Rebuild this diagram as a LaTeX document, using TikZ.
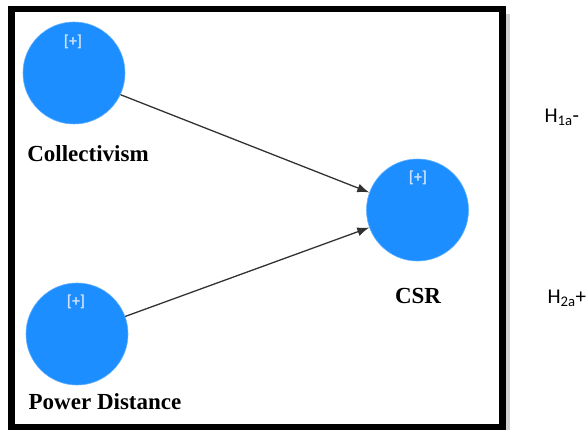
\documentclass[tikz,border=0pt]{standalone}
\usepackage{fontspec}
\setmainfont{Liberation Serif}
\newfontfamily\calib{Carlito}
\usetikzlibrary{positioning,arrows.meta}
\definecolor{latentblue}{RGB}{28,142,255}
\definecolor{plusgray}{RGB}{205,225,250}
\definecolor{pathgray}{RGB}{50,50,50}

\begin{document}
\begin{tikzpicture}[x=1pt,y=-1pt,
    latent/.style={circle,fill=latentblue,draw=latentblue!70!white,line width=0.6pt,minimum size=102pt,inner sep=0pt},
    plus/.style={font=\calib\fontsize{16}{16}\selectfont\bfseries,text=plusgray},
    lvname/.style={font=\fontsize{23}{25}\selectfont\bfseries},
    hyp/.style={font=\calib\fontsize{21}{23}\selectfont,anchor=west},
    path/.style={draw=pathgray,line width=1.3pt,-{Latex[length=12pt,width=9pt]}}]
    \useasboundingbox (0,0) rectangle (586,433);
    % frame with shadow on the right
    \fill[gray!35] (505.5,14) rectangle (510,430);
    \draw[line width=6.5pt] (11.5,9) rectangle (502.5,427);
    % latent variables
    \node[latent] (col) at (74,73) {};
    \node[latent] (pd)  at (77,334) {};
    \node[latent] (csr) at (417.5,210) {};
    \node[plus] (colplus) at (73,42) {[+]};
    \node[plus] (pdplus)  at (76,302) {[+]};
    \node[plus] (csrplus) at (418,178) {[+]};
    \node[lvname] (collab) at (88,154) {Collectivism};
    \node[lvname] (pdlab)  at (105,402) {Power Distance};
    \node[lvname] (csrlab) at (418,296) {CSR};
    % structural paths
    \draw[path] (col.-25) -- (csr.160);
    \draw[path] (pd.20) -- (csr.200);
    % hypotheses
    \node[hyp] (h1) at (541,117) {H\textsubscript{1a}-};
    \node[hyp] (h2) at (544,298) {H\textsubscript{2a}+};
\end{tikzpicture}
\end{document}
